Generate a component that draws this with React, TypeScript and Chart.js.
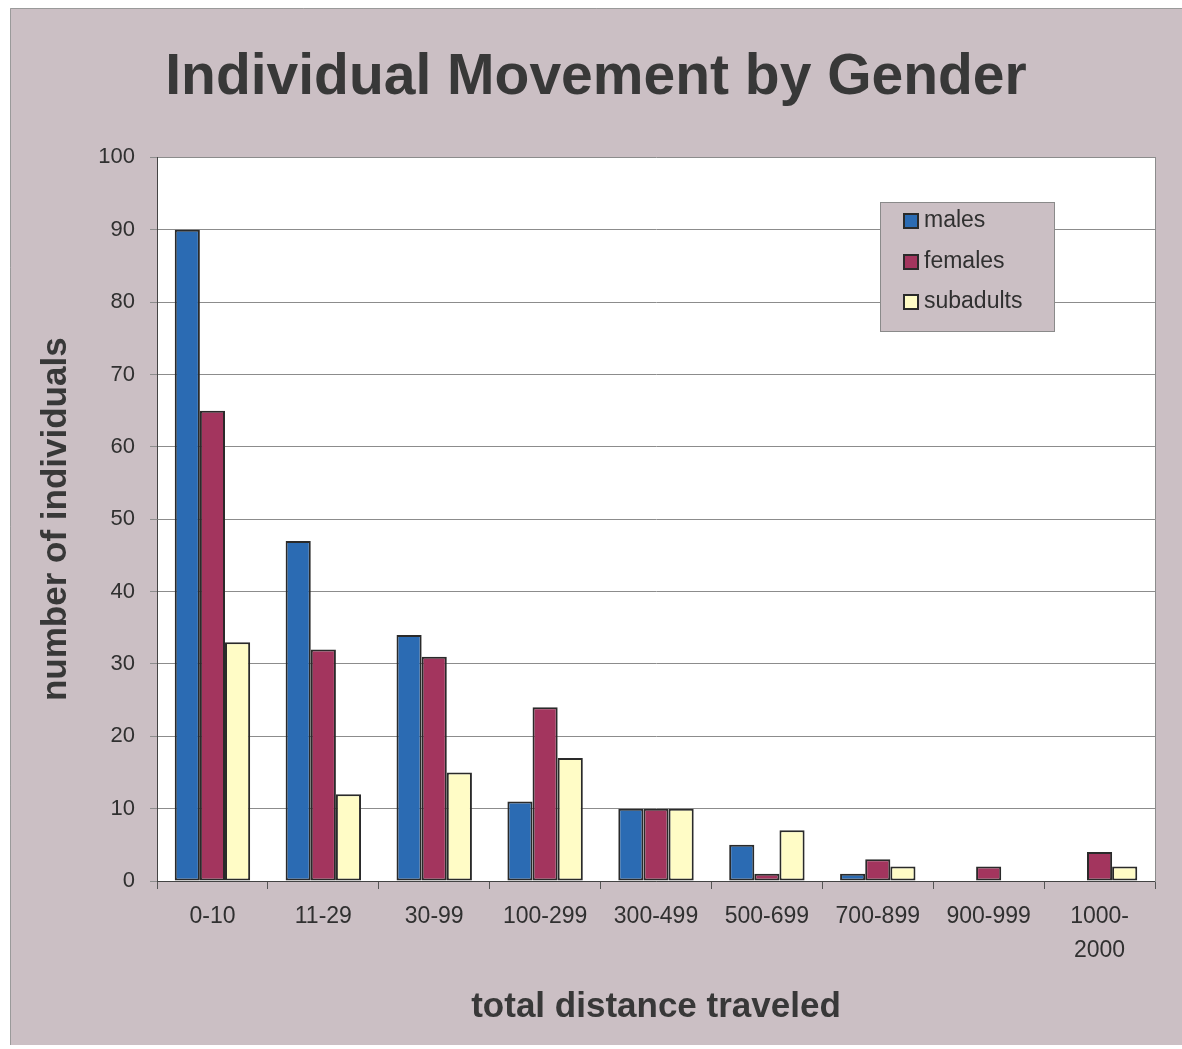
import React, { useEffect, useRef } from "react";
import { Chart, registerables } from "chart.js";

Chart.register(...registerables);

const categories: (string | string[])[] = [
  "0-10",
  "11-29",
  "30-99",
  "100-299",
  "300-499",
  "500-699",
  "700-899",
  "900-999",
  ["1000-", "2000"],
];
const males = [90, 47, 34, 11, 10, 5, 1, 0, 0];
const females = [65, 32, 31, 24, 10, 1, 3, 2, 4];
const subadults = [33, 12, 15, 17, 10, 7, 2, 0, 2];
const seriesLabels = ["males", "females", "subadults"];
const yTicks = [0, 10, 20, 30, 40, 50, 60, 70, 80, 90, 100];

const BG = "#cbbfc4";
const COLORS = ["#2b6bb3", "#a3355e", "#fffcc6"];
const FONT = "'Liberation Sans', Arial, Helvetica, sans-serif";
const TEXT = "#303030";

const backgroundPlugin = {
  id: "bgPlugin",
  beforeDraw(chart: any) {
    const { ctx, chartArea } = chart;
    ctx.save();
    ctx.fillStyle = "#ffffff";
    ctx.fillRect(0, 0, chart.width, chart.height);
    ctx.fillStyle = BG;
    ctx.fillRect(10, 8, chart.width - 10, 1037);
    ctx.strokeStyle = "#9a9a9a";
    ctx.lineWidth = 1;
    ctx.beginPath();
    ctx.moveTo(10.5, 1045);
    ctx.lineTo(10.5, 8.5);
    ctx.lineTo(chart.width, 8.5);
    ctx.stroke();
    ctx.fillStyle = "#ffffff";
    ctx.fillRect(chartArea.left, chartArea.top, chartArea.right - chartArea.left, chartArea.bottom - chartArea.top);
    ctx.restore();
  },
};

const legendPlugin = {
  id: "customLegend",
  afterDatasetsDraw(chart: any) {
    const { ctx } = chart;
    const x = 880, y = 202, w = 174, h = 129;
    ctx.save();
    ctx.fillStyle = BG;
    ctx.fillRect(x, y, w, h);
    ctx.strokeStyle = "#8a8a8a";
    ctx.lineWidth = 1;
    ctx.strokeRect(x + 0.5, y + 0.5, w, h);
    const rows = [221, 262, 302];
    chart.data.datasets.forEach((ds: any, i: number) => {
      const cy = rows[i];
      ctx.fillStyle = ds.backgroundColor;
      ctx.fillRect(904, cy - 7, 14, 14);
      ctx.strokeStyle = "#2a2a2a";
      ctx.lineWidth = 2;
      ctx.strokeRect(904, cy - 7, 14, 14);
      ctx.fillStyle = TEXT;
      ctx.font = `23px ${FONT}`;
      ctx.textBaseline = "middle";
      ctx.textAlign = "left";
      ctx.fillText(ds.label, 924, cy);
    });
    ctx.restore();
  },
};

export default function App() {
  const ref = useRef<HTMLCanvasElement | null>(null);

  useEffect(() => {
    document.body.style.margin = "0";
    if (!ref.current) return;
    const series = [males, females, subadults];
    const chart = new Chart(ref.current, {
      type: "bar",
      data: {
        labels: categories,
        datasets: series.map((d, i) => ({
          label: seriesLabels[i],
          data: d,
          backgroundColor: COLORS[i],
          borderColor: "#2a2a2a",
          borderWidth: 2,
          borderSkipped: false,
          categoryPercentage: 0.68,
          barPercentage: 1.0,
          yAxisID: "y",
        })),
      },
      options: {
        responsive: false,
        animation: false,
        layout: { padding: { left: 10, right: 0, top: 0, bottom: 0 } },
        plugins: {
          legend: { display: false },
          tooltip: { enabled: false },
          title: {
            display: true,
            text: "Individual Movement by Gender",
            color: "#383838",
            font: { family: FONT, size: 57, weight: "bold" },
            padding: { top: 44, bottom: 45 },
          },
        },
        scales: {
          x: {
            type: "category",
            grid: {
              offset: true,
              drawOnChartArea: false,
              drawTicks: true,
              tickLength: 8,
              color: "#555555",
            },
            border: { display: true, color: "#444444", width: 1 },
            ticks: {
              color: TEXT,
              font: { family: FONT, size: 23, lineHeight: 1.48 },
              padding: 11,
              maxRotation: 0,
              autoSkip: false,
            },
            title: {
              display: true,
              text: "total distance traveled",
              color: "#383838",
              font: { family: FONT, size: 35, weight: "bold" },
              padding: { top: 0, bottom: 21 },
            },
            afterFit: (scale: any) => {
              scale.height = 168;
            },
          },
          y: {
            type: "linear",
            position: "left",
            min: 0,
            max: 100,
            afterBuildTicks: (scale: any) => {
              scale.ticks = yTicks.map((v) => ({ value: v }));
            },
            grid: {
              color: "#8c8c8c",
              lineWidth: 1,
              drawTicks: true,
              tickLength: 7,
            },
            border: { display: true, color: "#444444", width: 1 },
            ticks: {
              color: TEXT,
              font: { family: FONT, size: 22 },
              padding: 15,
            },
            title: {
              display: true,
              text: "number of individuals",
              color: "#383838",
              font: { family: FONT, size: 35, weight: "bold" },
              padding: { top: 25, bottom: 0 },
            },
            afterFit: (scale: any) => {
              scale.width = 147;
            },
          },
          y2: {
            type: "linear",
            position: "right",
            min: 0,
            max: 100,
            grid: { display: false },
            ticks: { display: false },
            border: { display: true, color: "#8c8c8c", width: 1 },
            afterFit: (scale: any) => {
              scale.width = 27;
            },
          },
        },
      },
      plugins: [backgroundPlugin, legendPlugin],
    });
    return () => chart.destroy();
  }, []);

  return (
    <div>
      <canvas ref={ref} width={1182} height={1049} style={{ display: "block" }} />
    </div>
  );
}
